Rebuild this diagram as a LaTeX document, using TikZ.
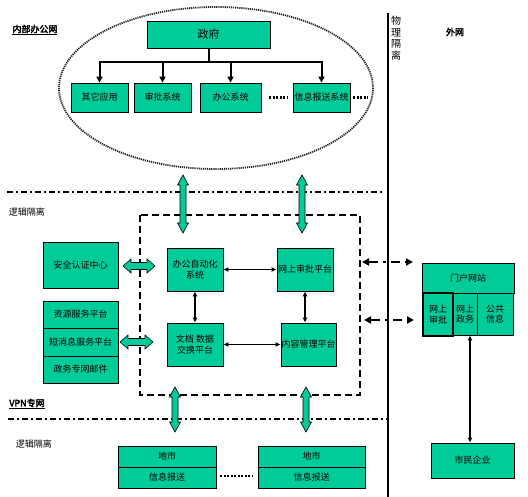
\documentclass[tikz,border=0pt]{standalone}
\usepackage{fontspec}
\setmainfont{Noto Sans CJK SC}
\newfontfamily\cjkbold[FakeBold=3]{Noto Sans CJK SC}
\usetikzlibrary{arrows.meta,calc}
\definecolor{boxgreen}{RGB}{0,204,153}
\tikzset{
  box/.style={draw=black, line width=0.8pt, fill=boxgreen, inner sep=0pt, align=center,
    font=\fontsize{9}{10.5}\selectfont},
  garrow/.style={draw=black, line width=0.6pt, fill=boxgreen},
  treeline/.style={line width=2pt},
  treearrow/.style={line width=2pt, -{Triangle[length=6pt,width=6pt]}},
  biarrow/.style={line width=1.6pt, {Latex[length=5pt,width=5pt]}-{Latex[length=5pt,width=5pt]}},
  sepline/.style={line width=2.2pt, dash pattern=on 6pt off 3pt on 2pt off 3pt},
  dashrect/.style={line width=2pt, dash pattern=on 7pt off 4pt},
  ellline/.style={line width=1.8pt, dash pattern=on 1.2pt off 0.9pt, black!85},
  dotfill/.style={line width=2.5pt, dash pattern=on 2pt off 1.5pt},
  ddarrow/.style={line width=2.5pt, dash pattern=on 9pt off 5pt on 3pt off 5pt,
    {Triangle[length=7pt,width=7pt]}-{Triangle[length=7pt,width=7pt]}},
  lbl/.style={inner sep=0pt, font=\fontsize{9}{10}\selectfont},
  blbl/.style={inner sep=0pt, font=\cjkbold\fontsize{9}{10}\selectfont},
}
\newcommand{\vblock}[2]{\filldraw[garrow] (#1) -- ++(5.5,10) -- ++(-2.5,0) -- ($(#2)+(3,-10)$) -- ++(2.5,0) -- (#2) -- ++(-5.5,-10) -- ++(2.5,0) -- ($(#1)+(-3,10)$) -- ++(-2.5,0) -- cycle;}
\newcommand{\hblock}[2]{\filldraw[garrow] (#1) -- ++(8,-7) -- ++(0,3.5) -- ($(#2)+(-8,-3.5)$) -- ++(0,-3.5) -- (#2) -- ++(-8,7) -- ++(0,-3.5) -- ($(#1)+(8,3.5)$) -- ++(0,3.5) -- cycle;}
\begin{document}
\begin{tikzpicture}[x=1pt,y=-1pt]
\useasboundingbox (0,0) rectangle (528,497);

% ---- inner office network ----
\draw[ellline] (216,88) ellipse [x radius=157, y radius=81];
\node[box, minimum width=123pt, minimum height=27pt, font=\fontsize{11}{12}\selectfont] (gov) at (208.5,34.5) {政府};
\node[box, minimum width=57pt, minimum height=29pt] (qt) at (99.5,97.5) {其它应用};
\node[box, minimum width=57pt, minimum height=29pt] (sp) at (162.5,97.5) {审批系统};
\node[box, minimum width=61pt, minimum height=29pt] (bg) at (230.5,97.5) {办公系统};
\node[box, minimum width=57pt, minimum height=29pt] (xx) at (321.5,97.5) {信息报送系统};
\coordinate (bar) at (205,62);
\draw[treeline] (gov.south) -- (gov.south |- bar);
\draw[treeline, line cap=rect] (bar -| qt) -- (bar -| xx);
\foreach \n in {qt,sp,bg,xx} \draw[treearrow] (bar -| \n) -- (\n.north);
\draw[dotfill] ($(bg.east)+(8,0)$) -- ($(xx.west)+(-5,0)$);
\draw[dotfill] ($(xx.east)+(3,0)$) -- ($(xx.east)+(18,0)$);

% ---- labels ----
\node[blbl] (lnb) at (35,30) {\underline{内部办公网}};
\node[blbl] (lww) at (455,32) {外网};
\node[lbl] (lj1) at (27,212) {逻辑隔离};
\node[blbl] (lvpn) at (27,404) {\underline{VPN专网}};
\node[lbl] (lj2) at (34,444) {逻辑隔离};
\node[inner sep=0pt, align=center, font=\fontsize{10}{11.5}\selectfont] (lwl) at (396,38) {物\\理\\隔\\离};

% ---- separators ----
\draw[sepline] (7,192) -- (383,192);
\draw[sepline] (8,419) -- (389,419);
\draw[line width=1.8pt] (388,13) -- (388,497);
\draw[dashrect] (140,215) rectangle (360,395);

% ---- middle boxes ----
\node[box, minimum width=75pt, minimum height=46pt] (aq) at (80.5,265) {安全认证中心};
\node[box, minimum width=75pt, minimum height=27pt] (zy) at (80.5,314.5) {资源服务平台};
\node[box, minimum width=75pt, minimum height=28pt] (dx) at (80.5,342) {短消息服务平台};
\node[box, minimum width=75pt, minimum height=27pt] (yj) at (80.5,369.5) {政务专网邮件};
\node[box, minimum width=56pt, minimum height=43pt] (oa) at (195,269.5) {办公自动化\\系统};
\node[box, minimum width=56pt, minimum height=43pt] (ws) at (305,269.5) {网上审批平台};
\node[box, minimum width=56pt, minimum height=43pt] (wd) at (195,344.5) {文档\ 数据\\交换平台};
\node[box, minimum width=55pt, minimum height=43pt] (nr) at (308.5,344.5) {内容管理平台};
\draw[biarrow] (oa) -- (ws);
\draw[biarrow] (oa) -- (wd);
\draw[biarrow] (ws.south) -- (ws.south |- nr.north);
\draw[biarrow] (wd) -- (nr);

% ---- green block arrows ----
\coordinate (g1t) at (183,175); \coordinate (g1b) at (183,233);
\coordinate (g2t) at (302,175); \coordinate (g2b) at (302,233);
\coordinate (g3t) at (175,387); \coordinate (g3b) at (175,432);
\coordinate (g4t) at (306,387); \coordinate (g4b) at (306,432);
\coordinate (g5l) at (123,266); \coordinate (g5r) at (155,266);
\coordinate (g6l) at (120,342); \coordinate (g6r) at (153,342);
\vblock{g1t}{g1b}
\vblock{g2t}{g2b}
\vblock{g3t}{g3b}
\vblock{g4t}{g4b}
\hblock{g5l}{g5r}
\hblock{g6l}{g6r}

% ---- external network ----
\node[box, minimum width=92pt, minimum height=30pt] (mh) at (468,278) {门户网站};
\node[box, minimum width=30pt, minimum height=43pt, line width=1.2pt] (p1) at (438,314.5) {网上\\审批};
\node[box, minimum width=24pt, minimum height=42pt] (p2) at (465,314) {网上\\政务};
\node[box, minimum width=36pt, minimum height=42pt] (p3) at (495,314) {公共\\信息};
\node[box, minimum width=83pt, minimum height=35pt] (sm) at (472.5,460.5) {市民企业};
\coordinate (p2b) at ($(p2.south)+(5,0)$);
\draw[biarrow] (p2b) -- (p2b |- sm.north);
\coordinate (r1a) at (362,262); \coordinate (r1b) at (413,262);
\coordinate (r2a) at (364,320); \coordinate (r2b) at (414,320);
\draw[ddarrow] (r1a) -- (r1b);
\draw[ddarrow] (r2a) -- (r2b);

% ---- city level ----
\node[box, minimum width=98pt, minimum height=21pt] (ds1) at (167,456.5) {地市};
\node[box, minimum width=98pt, minimum height=21pt] (xb1) at (167,477.5) {信息报送};
\node[box, minimum width=107pt, minimum height=21pt] (ds2) at (311.5,456.5) {地市};
\node[box, minimum width=107pt, minimum height=21pt] (xb2) at (311.5,477.5) {信息报送};
\draw[dotfill] ($(xb1.east)+(4,-1.5)$) -- ($(xb2.west)+(-5,-1.5)$);
\end{tikzpicture}
\end{document}
